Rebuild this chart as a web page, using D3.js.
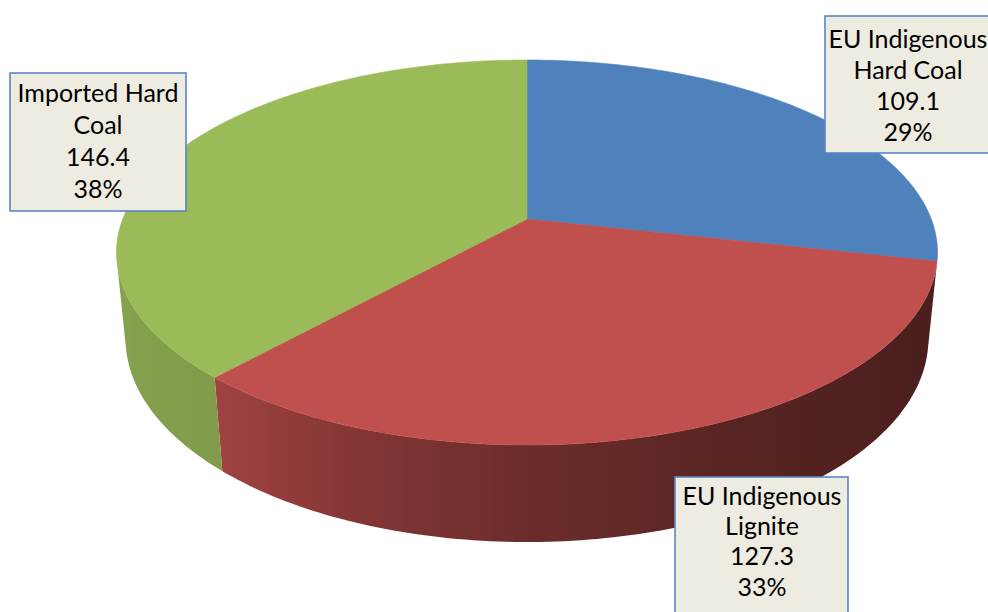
<!DOCTYPE html>
<html>
<head>
<meta charset="utf-8">
<script src="https://cdn.jsdelivr.net/npm/d3@7/dist/d3.min.js"></script>
<style>
  html, body { margin: 0; padding: 0; background: #ffffff; }
  svg { display: block; }
  .lbl text { font-family: Lato, "Open Sans", sans-serif; font-size: 25px; fill: #000; }
</style>
</head>
<body>
<svg id="chart" width="988" height="612"></svg>
<script>
// Coal supply (Mtoe) by source
const categories = ["EU Indigenous Hard Coal", "EU Indigenous Lignite", "Imported Hard Coal"];
const values = [109.1, 127.3, 146.4];
const labelLines = [["EU Indigenous", "Hard Coal"], ["EU Indigenous", "Lignite"], ["Imported Hard", "Coal"]];
const colors = ["#4F81BD", "#C0504D", "#9BBB59"];

const svg = d3.select("#chart");

// --- perspective camera for the tilted disc ---
const cx = 527, cy = 219;          // screen position of the disc centre
const sinT = 0.4618, cosT = Math.sqrt(1 - sinT * sinT);
const D = 5.096;                    // camera distance (disc radius = 1)
const f = 2060;                     // focal length in px
const thick = 0.2433;               // disc thickness

function project(a, r, y) {
  const x = r * Math.sin(a), z = -r * Math.cos(a);
  const depth = D - (y * sinT + z * cosT);
  return [cx + f * x / depth, cy - f * (y * cosT - z * sinT) / depth];
}

const pie = d3.pie().sort(null).value(d => d)(values);
const total = d3.sum(values);
const pct = d3.format(".0%");

// rim is visible where the outward normal faces the camera
const limit = Math.acos(-1 / (D * cosT));
const visLo = limit, visHi = 2 * Math.PI - limit;

// side shading as a function of the normal's horizontal component
const shade = d3.scaleLinear()
  .domain([-1, -0.67, -0.3, 0, 0.5, 1])
  .range([0.87, 0.83, 0.66, 0.56, 0.44, 0.38])
  .clamp(true);

function darken(hex, k) {
  const c = d3.rgb(hex);
  return d3.rgb(c.r * k, c.g * k, c.b * k).formatHex();
}

const defs = svg.append("defs");
const sideG = svg.append("g").attr("class", "sides");
const topG = svg.append("g").attr("class", "tops");

const steps = 180;
pie.forEach((p, i) => {
  // visible part of the outer wall
  const a0 = Math.max(p.startAngle, visLo), a1 = Math.min(p.endAngle, visHi);
  if (a1 > a0) {
    const n = Math.max(8, Math.ceil((a1 - a0) / (2 * Math.PI) * steps * 2));
    const angs = d3.range(n + 1).map(k => a0 + (a1 - a0) * k / n);
    const topPts = angs.map(a => project(a, 1, 0));
    const botPts = angs.map(a => project(a, 1, -thick)).reverse();
    const xs = topPts.map(q => q[0]);
    const xMin = d3.min(xs), xMax = d3.max(xs);
    const gid = "side" + i;
    const grad = defs.append("linearGradient")
      .attr("id", gid).attr("gradientUnits", "userSpaceOnUse")
      .attr("x1", xMin).attr("x2", xMax).attr("y1", 0).attr("y2", 0);
    const stops = angs.map((a, k) => ({
      off: (xs[k] - xMin) / (xMax - xMin || 1),
      col: darken(colors[i], shade(Math.sin(a)))
    })).sort((u, v) => u.off - v.off);
    stops.forEach(s => {
      grad.append("stop").attr("offset", s.off).attr("stop-color", s.col);
    });
    sideG.append("path")
      .attr("d", d3.line()(topPts.concat(botPts)) + "Z")
      .attr("fill", `url(#${gid})`);
  }
  // top face
  const n2 = Math.ceil((p.endAngle - p.startAngle) / (2 * Math.PI) * steps * 2);
  const pts = [project(0, 0, 0)].concat(
    d3.range(n2 + 1).map(k => project(p.startAngle + (p.endAngle - p.startAngle) * k / n2, 1, 0)));
  topG.append("path")
    .attr("d", d3.line()(pts) + "Z")
    .attr("fill", colors[i])
    .attr("stroke", colors[i]).attr("stroke-width", 0.6);
});

// --- data labels ---
const boxes = [
  { x: 825, y: 16, w: 167, h: 137, tx: 908, base: 48, step: 31.1 },
  { x: 675, y: 477, w: 173, h: 150, tx: 762, base: 505, step: 30.2 },
  { x: 10, y: 73, w: 176, h: 138, tx: 98, base: 102, step: 32.1 }
];
const lg = svg.append("g").attr("class", "lbl");
pie.forEach((p, i) => {
  const b = boxes[i];
  lg.append("rect")
    .attr("x", b.x).attr("y", b.y).attr("width", b.w).attr("height", b.h)
    .attr("fill", "#EEECE1").attr("stroke", "#5B86C6").attr("stroke-width", 1.6);
  const lines = labelLines[i].concat([d3.format(".1f")(values[i]), pct(values[i] / total)]);
  lines.forEach((t, k) => {
    lg.append("text")
      .attr("x", b.tx).attr("y", b.base + k * b.step)
      .attr("text-anchor", "middle")
      .text(t);
  });
});
</script>
</body>
</html>
